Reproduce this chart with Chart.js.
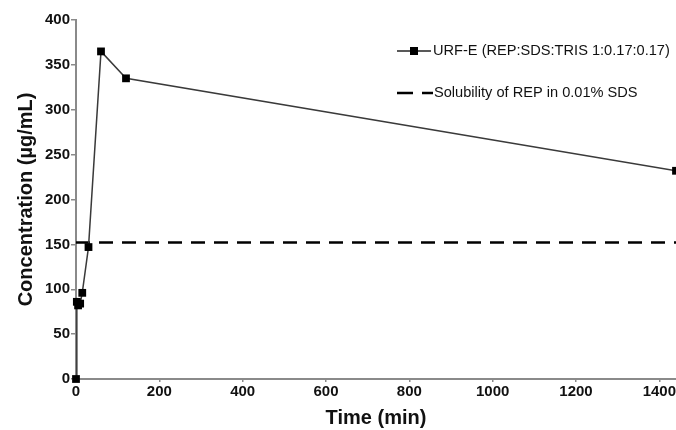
<!DOCTYPE html>
<html>
<head>
<meta charset="utf-8">
<script src="https://cdn.jsdelivr.net/npm/chart.js@4"></script>
<style>
  html, body { margin: 0; padding: 0; background: #fff; }
  #wrap { width: 676px; height: 430px; }
</style>
</head>
<body>
<div id="wrap"><canvas id="c" width="676" height="430"></canvas></div>
<script>
// values
const times = [0, 2, 5, 10, 15, 30, 60, 120, 1440];
const conc = [0, 86, 82, 84, 96, 147, 365, 335, 232];
const solubility = 152;
const xTicks = [0, 200, 400, 600, 800, 1000, 1200, 1400];
const seriesName = 'URF-E (REP:SDS:TRIS 1:0.17:0.17)';
const limitName = 'Solubility of REP in 0.01% SDS';

const axisGray = '#8a8a8a';
const tickFont = { family: 'Liberation Sans, Arial, sans-serif', size: 15, weight: 'bold' };
const titleFont = { family: 'Liberation Sans, Arial, sans-serif', size: 20, weight: 'bold' };

// legend drawn by hand so the sample can show line + square marker
const legendPlugin = {
  id: 'manualLegend',
  afterDraw(chart) {
    const ctx = chart.ctx;
    ctx.save();
    ctx.font = '14.6px Liberation Sans, Arial, sans-serif';
    ctx.textBaseline = 'middle';
    // row 1
    let y = 51;
    ctx.strokeStyle = '#222';
    ctx.lineWidth = 1.5;
    ctx.beginPath(); ctx.moveTo(397, y); ctx.lineTo(431, y); ctx.stroke();
    ctx.fillStyle = '#000';
    ctx.fillRect(410, y - 4, 8, 8);
    ctx.fillStyle = '#111';
    ctx.fillText(seriesName, 433, y);
    // row 2
    y = 93;
    ctx.strokeStyle = '#000';
    ctx.lineWidth = 2.5;
    ctx.beginPath(); ctx.moveTo(397, y); ctx.lineTo(413, y); ctx.moveTo(422, y); ctx.lineTo(433, y); ctx.stroke();
    ctx.fillText(limitName, 434, y);
    ctx.restore();
  }
};

new Chart(document.getElementById('c'), {
  type: 'scatter',
  data: {
    datasets: [
      {
        label: seriesName,
        data: times.map((t, i) => ({ x: t, y: conc[i] })),
        showLine: true,
        borderColor: '#3a3a3a',
        borderWidth: 1.5,
        tension: 0,
        pointStyle: 'rect',
        pointRadius: 5.5,
        pointBackgroundColor: '#000',
        pointBorderColor: '#000',
        pointBorderWidth: 0,
        clip: false
      },
      {
        label: limitName,
        data: [{ x: 0, y: solubility }, { x: 1440, y: solubility }],
        showLine: true,
        borderColor: '#000',
        borderWidth: 2.5,
        borderDash: [14, 9],
        pointRadius: 0
      }
    ]
  },
  options: {
    responsive: false,
    devicePixelRatio: 1,
    animation: false,
    layout: { autoPadding: false, padding: { top: 20, right: 0, left: 0, bottom: 0 } },
    plugins: { legend: { display: false }, tooltip: { enabled: false } },
    scales: {
      x: {
        type: 'linear',
        min: 0,
        max: 1440,
        afterBuildTicks: s => { s.ticks = xTicks.map(v => ({ value: v })); },
        afterFit: s => { s.height = 51; s.paddingRight = 0; s.paddingLeft = 0; },
        border: { color: axisGray, width: 2 },
        grid: { display: true, drawOnChartArea: false, color: axisGray, tickLength: 3, lineWidth: 1.5 },
        ticks: { color: '#111', font: tickFont, padding: 1, maxRotation: 0, callback: v => String(v) },
        title: { display: true, text: 'Time (min)', color: '#111', font: titleFont, padding: { top: 0, bottom: 0 } }
      },
      y: {
        min: 0,
        max: 400,
        ticks: { stepSize: 50, color: '#111', font: tickFont, padding: 1 },
        afterFit: s => { s.width = 76; },
        border: { color: axisGray, width: 2 },
        grid: { display: true, drawOnChartArea: false, color: axisGray, tickLength: 5, lineWidth: 1.5 },
        title: { display: true, text: 'Concentration (µg/mL)', color: '#111', font: titleFont, padding: { top: 14, bottom: 0 } }
      }
    }
  },
  plugins: [legendPlugin]
});
</script>
</body>
</html>
